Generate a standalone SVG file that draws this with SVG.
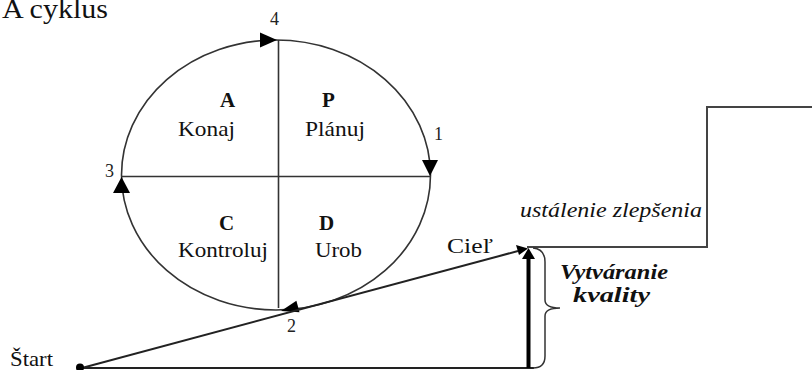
<svg xmlns="http://www.w3.org/2000/svg" width="812" height="370" viewBox="0 0 812 370">
<style>
  text { fill: #111; font-family: "Liberation Serif", "DejaVu Serif", serif; }
  .lbl { font-size: 21px; }
  .big { font-size: 21px; font-weight: bold; }
  .num { font-size: 18px; fill: #222; }
  .ln { stroke: #333; stroke-width: 1.6; fill: none; }
  .thick { stroke: #222; stroke-width: 2; fill: none; }
  .head { fill: #000; stroke: none; }
</style>
<rect width="812" height="370" fill="#fff"/>
<text x="2" y="18" style="font-size:28px" textLength="106" lengthAdjust="spacingAndGlyphs">A cyklus</text>

<g id="cycle">
  <ellipse cx="276" cy="175" rx="154.5" ry="135" class="ln"/>
  <line x1="121.5" y1="176.5" x2="430" y2="176.5" class="ln"/>
  <line x1="278.5" y1="40" x2="278.5" y2="308" class="ln"/>
  <polygon class="head" points="277,40 260,32.5 260,47.5"/>
  <polygon class="head" points="430,176 422,160 438,160"/>
  <polygon class="head" points="121.5,177 113,193 130,193"/>
  <polygon class="head" points="281,311 299.5,312.3 296.4,300.7"/>
</g>

<g id="quadrants">
  <text x="220" y="107" class="big">A</text>
  <text x="322" y="107" class="big">P</text>
  <text x="178" y="136" class="lbl" textLength="57" lengthAdjust="spacingAndGlyphs">Konaj</text>
  <text x="305" y="136" class="lbl" textLength="60" lengthAdjust="spacingAndGlyphs">Plánuj</text>
  <text x="219" y="230" class="big">C</text>
  <text x="319" y="230" class="big">D</text>
  <text x="178" y="257" class="lbl" textLength="90" lengthAdjust="spacingAndGlyphs">Kontroluj</text>
  <text x="315" y="257" class="lbl" textLength="47" lengthAdjust="spacingAndGlyphs">Urob</text>
</g>

<g id="numbers">
  <text x="270" y="25" class="num">4</text>
  <text x="434" y="140" class="num">1</text>
  <text x="105" y="177" class="num">3</text>
  <text x="287" y="332" class="num">2</text>
</g>

<g id="connectors">
  <line x1="80" y1="368" x2="534" y2="368" class="thick"/>
  <line x1="80" y1="368.5" x2="518" y2="251" class="thick"/>
  <polygon class="head" points="528,248.5 516,245 519,255"/>
  <line x1="528.5" y1="368" x2="528.5" y2="257" stroke="#000" stroke-width="4"/>
  <polygon class="head" points="528.5,248 522,259 535,259"/>
  <polyline points="527,247 707,247 707,107 812,107" fill="none" stroke="#444" stroke-width="2"/>
  <path d="M533,248 Q545,249 545,262 L545,300 Q545,308 560,308 Q545,308 545,316 L545,356 Q545,368 533,368" fill="none" stroke="#333" stroke-width="1.5"/>
  <circle cx="80" cy="367.5" r="4" fill="#000"/>
</g>

<g id="labels">
  <text x="10" y="366" class="lbl" textLength="43" lengthAdjust="spacingAndGlyphs">Štart</text>
  <text x="447" y="253" class="lbl" textLength="46" lengthAdjust="spacingAndGlyphs">Cieľ</text>
  <text x="520" y="217" class="lbl" font-style="italic" textLength="182" lengthAdjust="spacingAndGlyphs">ustálenie zlepšenia</text>
  <text x="560" y="279" class="lbl" font-style="italic" font-weight="bold" textLength="108" lengthAdjust="spacingAndGlyphs">Vytváranie</text>
  <text x="573" y="302" class="lbl" font-style="italic" font-weight="bold" textLength="77" lengthAdjust="spacingAndGlyphs">kvality</text>
</g>
</svg>
